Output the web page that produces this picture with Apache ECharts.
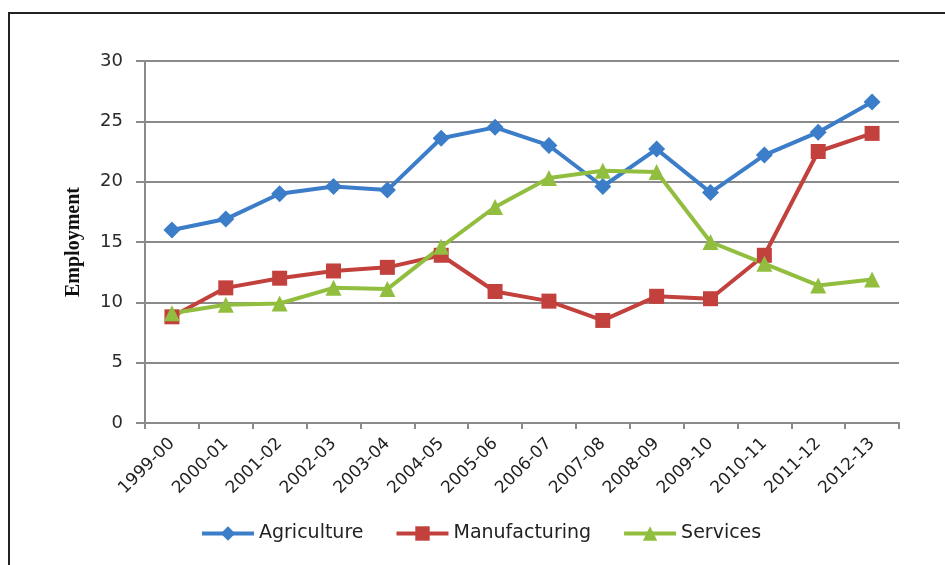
<!DOCTYPE html>
<html>
<head>
<meta charset="utf-8">
<script src="https://cdn.jsdelivr.net/npm/echarts@6/dist/echarts.min.js"></script>
<style>
html, body { margin: 0; padding: 0; background: #fff; }
#main { width: 945px; height: 565px; }
</style>
</head>
<body>
<div id="main"></div>
<script>
// data
var years = ['1999-00', '2000-01', '2001-02', '2002-03', '2003-04', '2004-05', '2005-06',
	'2006-07', '2007-08', '2008-09', '2009-10', '2010-11', '2011-12', '2012-13'];
var agriculture = [16.0, 16.9, 19.0, 19.6, 19.3, 23.6, 24.5, 23.0, 19.6, 22.7, 19.1, 22.2, 24.1, 26.6];
var manufacturing = [8.8, 11.2, 12.0, 12.6, 12.9, 13.9, 10.9, 10.1, 8.5, 10.5, 10.3, 13.9, 22.5, 24.0];
var services = [9.1, 9.8, 9.9, 11.2, 11.1, 14.6, 17.9, 20.3, 20.9, 20.8, 15.0, 13.2, 11.4, 11.9];
var yTicks = [0, 5, 10, 15, 20, 25, 30];

function showChart() {
	var myChart = echarts.init(document.getElementById('main'));
	var font = '"DejaVu Sans", sans-serif';
	var option = {
		animation: false,
		backgroundColor: '#fff',
		graphic: [
			{
				type: 'rect',
				shape: { x: 9, y: 13, width: 1000, height: 600 },
				style: { fill: 'none', stroke: '#222', lineWidth: 2 }
			}
		],
		grid: { left: 145, top: 61, right: 46, bottom: 142 },
		legend: {
			left: 195,
			top: 519,
			itemWidth: 52,
			itemHeight: 18,
			itemGap: 31,
			lineStyle: { width: 4 },
			textStyle: { fontFamily: font, fontSize: 19, color: '#222' },
			data: ['Agriculture', 'Manufacturing', 'Services']
		},
		xAxis: {
			type: 'category',
			data: years,
			boundaryGap: true,
			axisLine: { lineStyle: { color: '#8a8a8a', width: 2 } },
			axisTick: { show: true, length: 6, lineStyle: { color: '#8a8a8a', width: 2 } },
			axisLabel: { rotate: 45, margin: 18, fontFamily: font, fontSize: 17, color: '#222', interval: 0 }
		},
		yAxis: {
			type: 'value',
			min: 0,
			max: 30,
			interval: 5,
			name: 'Employment',
			nameLocation: 'middle',
			nameRotate: 90,
			nameGap: 61,
			nameTextStyle: { fontFamily: '"Liberation Serif", serif', fontWeight: 'bold', fontSize: 20, color: '#111' },
			axisLine: { show: true, lineStyle: { color: '#8a8a8a', width: 2 } },
			axisTick: { show: true, length: 9, lineStyle: { color: '#8a8a8a', width: 2 } },
			axisLabel: {
				margin: 22, fontFamily: font, fontSize: 18, color: '#2a2a2a',
				formatter: function (v) { return yTicks.indexOf(v) >= 0 ? String(v) : ''; }
			},
			splitLine: { lineStyle: { color: '#8a8a8a', width: 2 } }
		},
		series: [
			{
				name: 'Agriculture',
				type: 'line',
				data: agriculture,
				symbol: 'diamond',
				symbolSize: 17,
				itemStyle: { color: '#3b7dc8' },
				lineStyle: { width: 4, color: '#3b7dc8' }
			},
			{
				name: 'Manufacturing',
				type: 'line',
				data: manufacturing,
				symbol: 'rect',
				symbolSize: 15,
				itemStyle: { color: '#c2413d' },
				lineStyle: { width: 4, color: '#c2413d' }
			},
			{
				name: 'Services',
				type: 'line',
				data: services,
				symbol: 'triangle',
				symbolSize: 16,
				itemStyle: { color: '#92be3f' },
				lineStyle: { width: 4, color: '#92be3f' }
			}
		]
	};
	myChart.setOption(option);
}
showChart();
</script>
</body>
</html>
